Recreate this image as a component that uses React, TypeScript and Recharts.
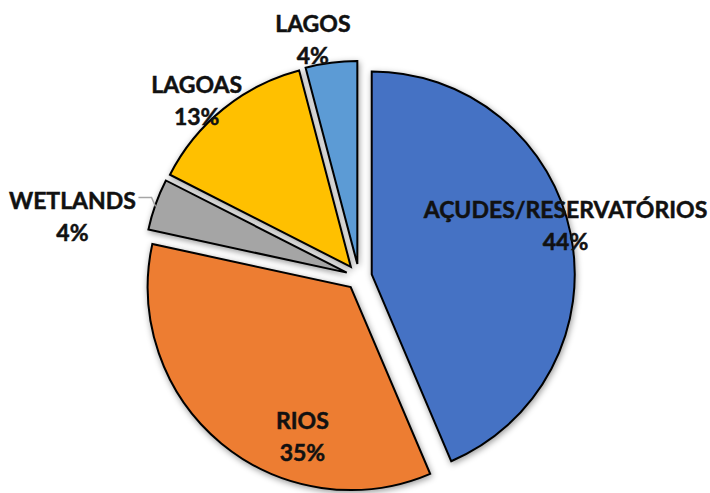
import { PieChart, Pie, Cell } from "recharts";

// share of water bodies by type (%), clockwise from 12 o'clock
const categories = ["AÇUDES/RESERVATÓRIOS", "RIOS", "WETLANDS", "LAGOAS", "LAGOS"];
const values = [43.6, 34.8, 4.1, 13.4, 4.1];
const colors = ["#4472C4", "#ED7D31", "#A5A5A5", "#FFC000", "#5B9BD5"];

// label placement, relative to each exploded slice: radius factor + angle shift (deg, clockwise)
const labelRadius = [0.985, 0.77, 1.38, 1.12, 1.13];
const labelShift = [-2.8, -21.6, -7.9, -3.8, -3.8];

const W = 710;
const H = 493;
const CX = 359;
const CY = 277;
const R = 203;
const EXPLODE = 13;
const RAD = Math.PI / 180;

const data = categories.map((name, i) => ({ name, value: values[i] }));
const total = values.reduce((a, b) => a + b, 0);

// offset of each slice away from the centre, along its mid angle
const offsets = values.map((v, i) => {
  const before = values.slice(0, i).reduce((a, b) => a + b, 0);
  const mid = ((before + v / 2) / total) * 360; // clockwise from top
  return { dx: EXPLODE * Math.sin(mid * RAD), dy: -EXPLODE * Math.cos(mid * RAD) };
});

const font = "Lato, 'Noto Sans', sans-serif";

function makeLabel(slice: number) {
  return (p: any) => {
    if (p.index !== slice) return null;
    const cw = 90 - p.midAngle + labelShift[slice];
    const r = p.outerRadius * labelRadius[slice];
    const x = p.cx + r * Math.sin(cw * RAD);
    const y = p.cy - r * Math.cos(cw * RAD);
    let leader = null;
    if (slice === 2) {
      const m = (90 - p.midAngle) * RAD;
      const ex = p.cx + p.outerRadius * Math.sin(m);
      const ey = p.cy - p.outerRadius * Math.cos(m);
      leader = (
        <polyline
          points={`${x + 66},${ey - 7} ${ex - 4},${ey - 7} ${ex},${ey + 2}`}
          fill="none"
          stroke="#A6A6A6"
          strokeWidth={1.5}
        />
      );
    }
    return (
      <g key={`lbl-${slice}`}>
        {leader}
        <text
          x={x}
          y={y}
          textAnchor="middle"
          fontFamily={font}
          fontWeight={700}
          fontSize={23}
          fill="#111"
          stroke="#111"
          strokeWidth={0.5}
        >
          <tspan x={x} y={y - 16} dominantBaseline="central">{categories[slice]}</tspan>
          <tspan x={x} y={y + 16} dominantBaseline="central">{`${Math.round(p.percent * 100)}%`}</tspan>
        </text>
      </g>
    );
  };
}

export default function App() {
  return (
    <div style={{ position: "absolute", left: 0, top: 0, width: W, height: H, background: "#fff" }}>
      <svg width={0} height={0} style={{ position: "absolute" }}>
        <defs>
          <filter id="sliceShadow" x="-20%" y="-20%" width="140%" height="140%">
            <feDropShadow dx={1} dy={2} stdDeviation={3} floodColor="#000" floodOpacity={0.4} />
          </filter>
        </defs>
      </svg>
      <PieChart width={W} height={H} margin={{ top: 0, right: 0, bottom: 0, left: 0 }}>
        {categories.map((c, i) => (
          <Pie
            key={c}
            data={data}
            dataKey="value"
            nameKey="name"
            cx={CX + offsets[i].dx}
            cy={CY + offsets[i].dy}
            outerRadius={R}
            startAngle={90}
            endAngle={-270}
            isAnimationActive={false}
            label={makeLabel(i)}
            labelLine={false}
            stroke="none"
          >
            {data.map((d, j) => (
              <Cell
                key={d.name}
                fill={j === i ? colors[j] : "transparent"}
                stroke={j === i ? "#000" : "none"}
                strokeWidth={2}
                filter={j === i ? "url(#sliceShadow)" : undefined}
              />
            ))}
          </Pie>
        ))}
      </PieChart>
    </div>
  );
}
